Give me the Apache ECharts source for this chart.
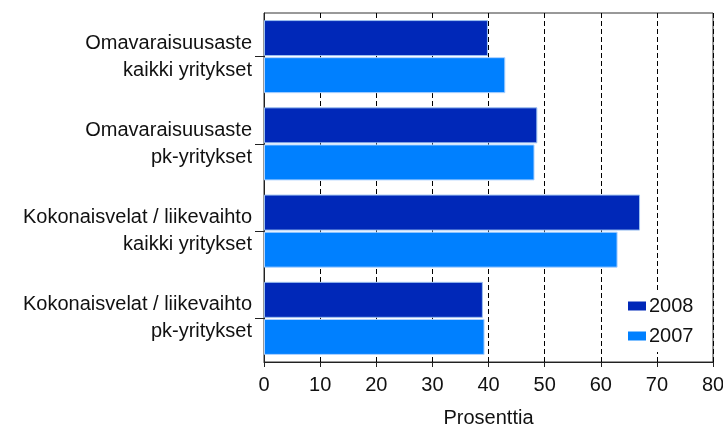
<!DOCTYPE html>
<html>
<head>
<meta charset="utf-8">
<script src="https://cdn.jsdelivr.net/npm/echarts@6/dist/echarts.min.js"></script>
<style>
html,body{margin:0;padding:0;background:#fff;}
#c{width:723px;height:428px;}
</style>
</head>
<body>
<div id="c"></div>
<script>
var categories = [
  'Omavaraisuusaste\nkaikki yritykset',
  'Omavaraisuusaste\npk-yritykset',
  'Kokonaisvelat / liikevaihto\nkaikki yritykset',
  'Kokonaisvelat / liikevaihto\npk-yritykset'
];
var seriesNames = ['2008', '2007'];
var values2008 = [39.9, 48.7, 67.0, 39.0];
var values2007 = [43.0, 48.2, 63.0, 39.3];
var xTicks = { min: 0, max: 80, interval: 10 };
var xName = 'Prosenttia';

var font = 'Liberation Sans, Arial, sans-serif';
var chart = echarts.init(document.getElementById('c'));
chart.setOption({
  backgroundColor: '#ffffff',
  animation: false,
  grid: {
    left: 264, right: 10, top: 13, bottom: 66,
    containLabel: false, outerBoundsMode: 'none',
    show: true, borderColor: '#333', borderWidth: 1, backgroundColor: '#fff'
  },
  legend: {
    data: seriesNames,
    orient: 'vertical',
    left: 622, top: 290,
    padding: [6, 14, 6, 6],
    itemGap: 10,
    itemWidth: 18, itemHeight: 9,
    icon: 'rect',
    itemStyle: { borderWidth: 0 },
    backgroundColor: '#ffffff',
    textStyle: { fontFamily: font, fontSize: 20, lineHeight: 20, color: '#111', padding: [0, 0, 0, -2] }
  },
  xAxis: {
    type: 'value',
    min: xTicks.min, max: xTicks.max, interval: xTicks.interval,
    name: xName, nameLocation: 'middle', nameGap: 46,
    nameTextStyle: { fontFamily: font, fontSize: 20, color: '#111' },
    axisLine: { show: true, lineStyle: { color: '#222', width: 1 } },
    axisTick: { show: true, length: 5, lineStyle: { color: '#222' } },
    axisLabel: { fontFamily: font, fontSize: 20, color: '#111', margin: 13 },
    splitLine: { show: true, lineStyle: { color: '#000', type: [5, 3], width: 1 } }
  },
  yAxis: {
    type: 'category',
    data: categories,
    inverse: true,
    axisLine: { show: true, lineStyle: { color: '#222', width: 1 } },
    axisTick: { show: true, alignWithLabel: true, length: 9, lineStyle: { color: '#222' } },
    axisLabel: { fontFamily: font, fontSize: 20, color: '#111', margin: 12, lineHeight: 27, align: 'right', padding: [10, 0, 0, 0] }
  },
  series: [
    {
      name: seriesNames[0], type: 'bar', data: values2008,
      barWidth: 36, barGap: '3%',
      itemStyle: { color: '#0028B8', borderColor: '#9CC0F0', borderWidth: 1 }
    },
    {
      name: seriesNames[1], type: 'bar', data: values2007,
      barWidth: 36, barGap: '3%',
      itemStyle: { color: '#0080FF', borderColor: '#B0D4FF', borderWidth: 1 }
    }
  ]
});
</script>
</body>
</html>
